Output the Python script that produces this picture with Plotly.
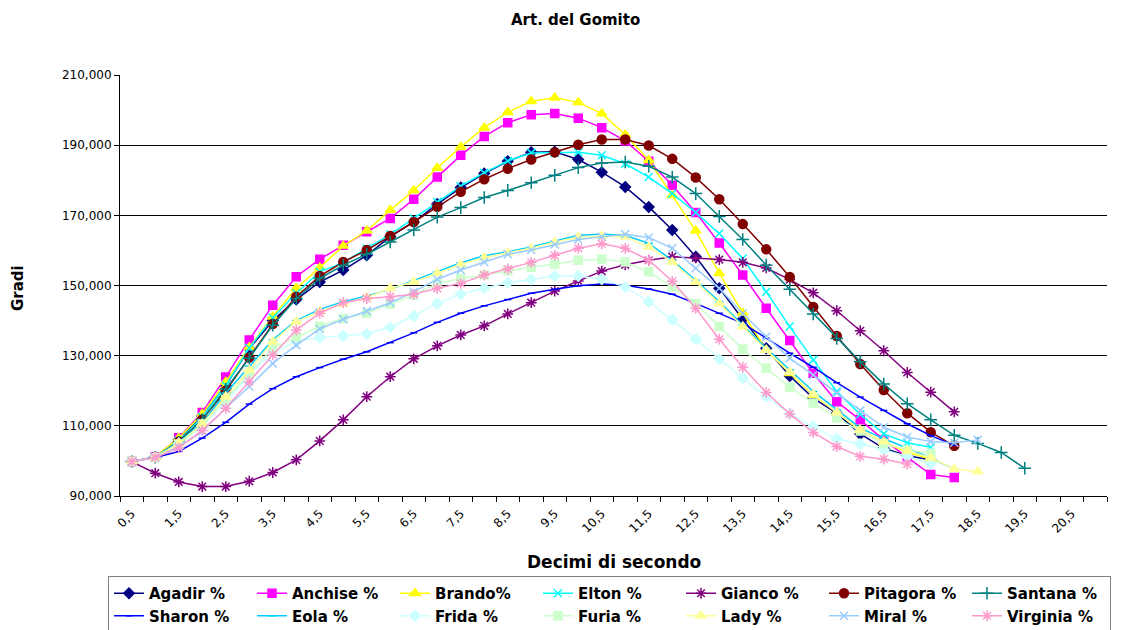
import plotly.graph_objects as go

# Tempo in decimi di secondo (asse delle categorie)
TEMPI = [0.5, 1.0, 1.5, 2.0, 2.5, 3.0, 3.5, 4.0, 4.5, 5.0, 5.5, 6.0, 6.5, 7.0,
         7.5, 8.0, 8.5, 9.0, 9.5, 10.0, 10.5, 11.0, 11.5, 12.0, 12.5, 13.0,
         13.5, 14.0, 14.5, 15.0, 15.5, 16.0, 16.5, 17.0, 17.5, 18.0, 18.5,
         19.0, 19.5]

X_TICK_VALS = [0.5, 1.5, 2.5, 3.5, 4.5, 5.5, 6.5, 7.5, 8.5, 9.5, 10.5, 11.5,
               12.5, 13.5, 14.5, 15.5, 16.5, 17.5, 18.5, 19.5, 20.5]
X_TICK_LABELS = ["0,5", "1,5", "2,5", "3,5", "4,5", "5,5", "6,5", "7,5", "8,5",
                 "9,5", "10,5", "11,5", "12,5", "13,5", "14,5", "15,5", "16,5",
                 "17,5", "18,5", "19,5", "20,5"]
Y_TICK_VALS = [90, 110, 130, 150, 170, 190, 210]
Y_TICK_LABELS = ["90,000", "110,000", "130,000", "150,000", "170,000",
                 "190,000", "210,000"]

# Angolo del gomito (gradi) per ciascun soggetto
agadir = [99.8, 101.1, 106.0, 112.8, 121.5, 132.0, 140.0, 146.0, 151.0, 154.4,
          158.6, 163.9, 168.1, 173.2, 177.9, 181.9, 185.4, 188.0, 188.1, 185.9,
          182.3, 178.1, 172.4, 165.8, 158.2, 149.2, 140.4, 132.1, 124.2, 117.9,
          113.6, 107.7, 103.6, 101.5, 100.3]
anchise = [99.8, 101.2, 106.6, 113.8, 123.9, 134.5, 144.4, 152.5, 157.5, 161.5,
           165.3, 169.1, 174.6, 180.9, 187.1, 192.5, 196.4, 198.7, 199.0, 197.7,
           195.0, 191.2, 185.4, 178.6, 170.8, 162.1, 153.0, 143.5, 134.3, 125.0,
           116.9, 111.7, 106.0, 101.1, 96.1, 95.3]
brando = [99.8, 101.2, 106.5, 113.4, 122.5, 132.4, 141.1, 149.2, 155.1, 161.3,
          165.6, 171.5, 177.1, 183.5, 189.5, 195.0, 199.4, 202.5, 203.5, 202.2,
          199.0, 193.0, 185.7, 175.7, 165.6, 153.5, 142.2, 131.6, 125.0, 118.8,
          113.8, 108.8, 105.3, 102.5, 100.5]
elton = [99.8, 101.1, 105.8, 112.5, 121.5, 132.2, 140.8, 147.8, 153.9, 156.5,
         160.6, 164.6, 169.1, 173.8, 178.3, 182.1, 185.5, 187.8, 187.8, 188.0,
         187.1, 184.7, 180.9, 176.2, 170.8, 164.8, 157.7, 148.2, 138.3, 128.8,
         119.8, 113.3, 107.7, 105.2, 103.9]
gianco = [99.8, 96.5, 94.0, 92.7, 92.7, 94.2, 96.7, 100.3, 105.7, 111.7,
          118.3, 124.0, 129.1, 132.8, 135.9, 138.5, 141.9, 145.1, 148.4, 151.3,
          154.1, 155.9, 157.2, 158.2, 157.9, 157.4, 156.6, 155.0, 151.7, 147.9,
          142.8, 137.1, 131.4, 125.2, 119.6, 114.0]
pitagora = [99.8, 101.0, 105.5, 111.8, 120.0, 129.5, 139.0, 146.8, 152.7, 156.7,
            160.1, 164.1, 168.1, 172.4, 176.7, 180.3, 183.3, 185.9, 188.0, 190.1,
            191.6, 191.6, 189.9, 186.1, 180.8, 174.6, 167.5, 160.3, 152.4, 143.9,
            135.6, 127.6, 120.2, 113.6, 108.2, 104.3]
santana = [99.8, 101.0, 105.3, 111.8, 120.5, 129.3, 138.7, 146.3, 152.0, 155.8,
           158.9, 162.4, 165.8, 169.5, 172.2, 175.1, 177.1, 179.3, 181.4, 183.6,
           184.9, 185.2, 184.0, 180.9, 176.2, 169.7, 163.1, 155.8, 148.9, 141.9,
           134.9, 128.3, 121.9, 116.3, 111.7, 107.3, 105.0, 102.4, 97.9]
sharon = [99.8, 101.0, 102.7, 106.5, 111.0, 116.2, 120.6, 124.0, 126.6, 129.0,
          131.1, 133.7, 136.5, 139.5, 142.1, 144.2, 146.0, 147.8, 148.9, 149.9,
          150.4, 150.1, 149.0, 147.5, 144.9, 142.1, 139.2, 135.0, 130.7, 126.7,
          122.3, 118.2, 114.4, 110.6, 107.2, 104.5]
eola = [99.8, 101.1, 105.3, 110.8, 119.3, 127.0, 134.5, 140.0, 143.2, 145.4,
        147.0, 148.9, 151.4, 153.9, 156.5, 158.5, 159.6, 161.0, 162.6, 164.3,
        164.6, 164.3, 162.0, 157.2, 151.5, 145.4, 138.7, 132.1, 126.0, 119.8,
        114.6, 109.4, 106.3, 103.7, 100.8, 97.7]
frida = [99.8, 101.0, 105.0, 110.0, 116.8, 124.5, 131.0, 134.0, 135.2, 135.6,
         136.2, 138.1, 141.3, 144.9, 147.5, 149.2, 150.8, 151.7, 152.7, 152.7,
         151.8, 149.6, 145.4, 140.2, 134.7, 129.0, 123.6, 118.3, 113.4, 109.8,
         106.3, 104.8, 103.2, 101.3, 99.2]
furia = [99.8, 101.0, 104.8, 110.5, 117.5, 125.0, 132.1, 135.2, 138.4, 140.6,
         142.1, 144.7, 147.3, 150.6, 152.0, 153.0, 154.2, 155.2, 156.1, 157.2,
         157.5, 156.7, 153.9, 149.6, 144.9, 138.3, 131.8, 126.4, 121.0, 116.5,
         112.2, 108.5, 104.9, 103.2, 102.2]
lady = [99.8, 101.0, 105.0, 110.5, 118.3, 125.9, 134.0, 139.7, 142.6, 144.8,
        146.6, 149.2, 151.0, 153.5, 156.0, 158.0, 159.3, 160.6, 162.3, 163.8,
        164.1, 163.9, 161.0, 156.7, 151.0, 144.9, 138.3, 131.6, 125.3, 119.0,
        113.8, 108.8, 105.5, 102.8, 100.9, 97.7, 97.0]
miral = [99.8, 101.0, 104.0, 108.4, 115.0, 121.2, 127.8, 133.0, 137.6, 140.4,
         142.7, 145.1, 148.2, 151.8, 154.4, 156.7, 158.9, 160.1, 161.7, 163.1,
         163.9, 164.6, 163.7, 160.6, 154.9, 149.2, 142.0, 135.4, 129.3, 124.5,
         119.3, 114.4, 109.6, 106.8, 105.5, 105.2, 106.0]
virginia = [99.8, 101.0, 103.7, 108.7, 115.0, 122.6, 130.2, 137.3, 142.1, 145.1,
            146.3, 146.8, 147.5, 149.2, 150.6, 153.0, 154.7, 156.6, 158.6, 160.6,
            161.9, 160.6, 157.2, 151.2, 143.5, 134.7, 126.7, 119.5, 113.4, 108.1,
            104.1, 101.3, 100.5, 99.1]

# nome, valori, colore, simbolo, dimensione marker
SERIE = [
    ("Agadir %", agadir, "#000080", "diamond", 8),
    ("Anchise %", anchise, "#FF00FF", "square", 8),
    ("Brando%", brando, "#FFFF00", "triangle-up", 9),
    ("Elton %", elton, "#00FFFF", "x-thin-open", 8),
    ("Gianco %", gianco, "#800080", "asterisk-open", 9),
    ("Pitagora %", pitagora, "#800000", "circle", 9),
    ("Santana %", santana, "#008080", "cross-thin-open", 9),
    ("Sharon %", sharon, "#0000FF", "line-ew-open", 5),
    ("Eola %", eola, "#00CCFF", "line-ew-open", 6),
    ("Frida %", frida, "#CCFFFF", "diamond", 8),
    ("Furia %", furia, "#CCFFCC", "square", 8),
    ("Lady %", lady, "#FFFF99", "triangle-up", 9),
    ("Miral %", miral, "#99CCFF", "x-thin-open", 8),
    ("Virginia %", virginia, "#FF99CC", "asterisk-open", 9),
]

FONT = "DejaVu Sans"
PLOT_W = 987   # larghezza dell'area del grafico (px)
PLOT_H = 421   # altezza dell'area del grafico (px)

fig = go.Figure()
for nome, valori, colore, simbolo, dim in SERIE:
    fig.add_trace(go.Scatter(
        x=TEMPI[:len(valori)],
        y=valori,
        name=nome,
        mode="lines+markers",
        line=dict(color=colore, width=1.5),
        marker=dict(symbol=simbolo, size=dim, color=colore,
                    line=dict(color=colore, width=1.5)),
    ))

fig.update_layout(
    width=1122,
    height=630,
    paper_bgcolor="white",
    plot_bgcolor="white",
    margin=dict(l=120, r=15, t=75, b=134, autoexpand=False),
    font=dict(family=FONT, size=12, color="black"),
    title=dict(text="<b>Art. del Gomito</b>", x=0.513, xanchor="center",
               y=1 - 20 / 630, yanchor="middle",
               font=dict(family=FONT, size=15, color="black")),
    showlegend=True,
    legend=dict(
        orientation="h",
        xref="paper", yref="paper",
        x=-12 / PLOT_W, xanchor="left",
        y=-80 / PLOT_H, yanchor="top",
        entrywidth=98, entrywidthmode="pixels",
        font=dict(family=FONT, size=15, color="black", weight="bold"),
        bgcolor="white", bordercolor="#808080", borderwidth=1,
        tracegroupgap=0,
    ),
    xaxis=dict(
        range=[0.25, 21.25],
        tickvals=X_TICK_VALS,
        ticktext=X_TICK_LABELS,
        tickangle=-45,
        ticks="outside", ticklen=5, tickcolor="rgba(0,0,0,0)",
        tickfont=dict(family=FONT, size=12, color="black"),
        showgrid=False, zeroline=False,
        showline=True, linecolor="black", linewidth=1,
        minor=dict(tick0=0.25, dtick=0.5, ticks="outside", ticklen=5,
                   tickcolor="black", tickwidth=1, showgrid=False),
    ),
    yaxis=dict(
        range=[90, 210],
        tickvals=Y_TICK_VALS,
        ticktext=Y_TICK_LABELS,
        ticks="outside", ticklen=5, tickcolor="black",
        tickfont=dict(family=FONT, size=12, color="black"),
        showgrid=True, gridcolor="black", gridwidth=1,
        zeroline=False,
        showline=True, linecolor="black", linewidth=1,
    ),
    annotations=[
        dict(text="<b>Decimi di secondo</b>", xref="paper", yref="paper",
             x=0.5, y=-66 / PLOT_H, xanchor="center", yanchor="middle",
             showarrow=False, font=dict(family=FONT, size=17, color="black")),
        dict(text="<b>Gradi</b>", xref="paper", yref="paper",
             x=-102 / PLOT_W, y=208 / PLOT_H, xanchor="center",
             yanchor="middle", textangle=-90, showarrow=False,
             font=dict(family=FONT, size=15, color="black")),
    ],
)

fig.write_html("out.html")
